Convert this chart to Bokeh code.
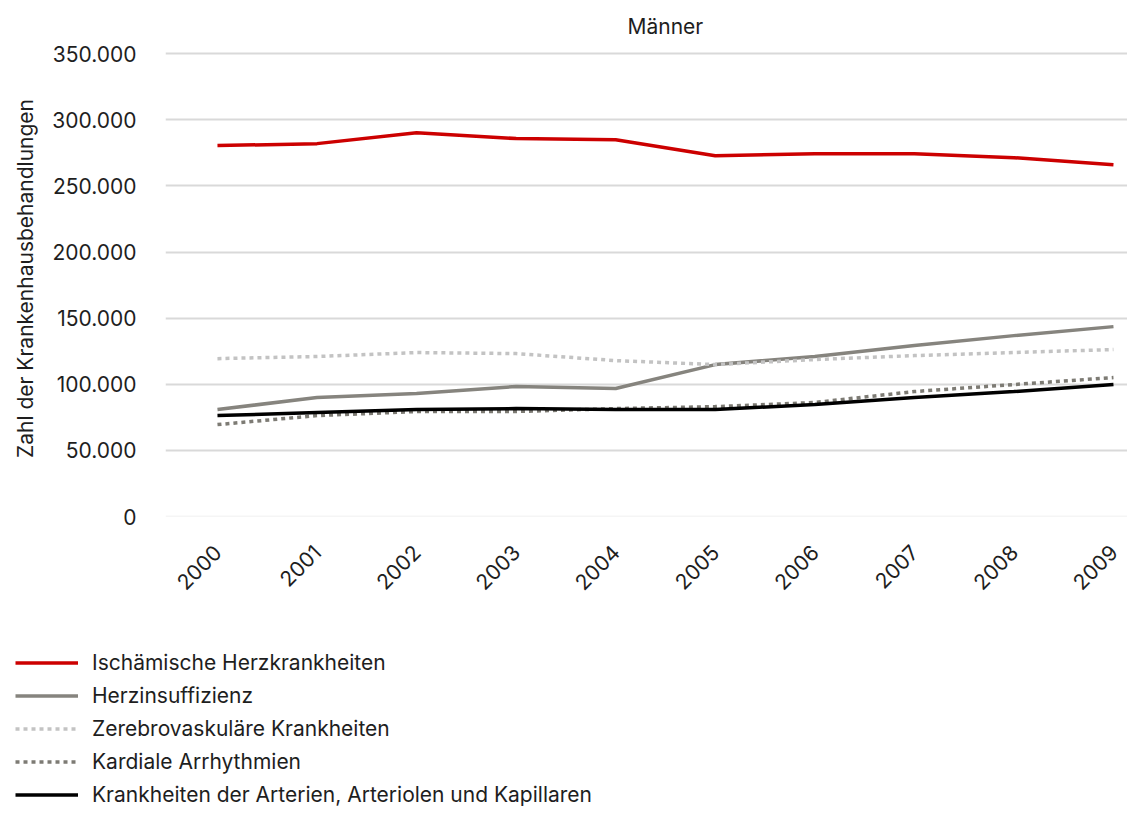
from bokeh.plotting import figure
from bokeh.models import Range1d, FixedTicker, Legend, LegendItem, Title, Span
from bokeh.embed import file_html
from bokeh.resources import INLINE

years = [2000, 2001, 2002, 2003, 2004, 2005, 2006, 2007, 2008, 2009]
year_labels = ["2000", "2001", "2002", "2003", "2004", "2005", "2006", "2007", "2008", "2009"]

ischaemische = [280500, 282000, 290300, 285800, 285000, 272900, 274400, 274400, 271400, 266100]
herzinsuffizienz = [80900, 90000, 93000, 98300, 96800, 114900, 121000, 129300, 136800, 143600]
zerebrovaskulaer = [119400, 121000, 124000, 123200, 117900, 114900, 118700, 121700, 124000, 126300]
arrhythmien = [69500, 76300, 79400, 79400, 81600, 83100, 86200, 94500, 99800, 105100]
arterien = [76300, 78600, 80900, 81600, 80900, 80900, 84700, 90000, 94500, 99800]

series_names = [
    "Ischämische Herzkrankheiten",
    "Herzinsuffizienz",
    "Zerebrovaskuläre Krankheiten",
    "Kardiale Arrhythmien",
    "Krankheiten der Arterien, Arteriolen und Kapillaren",
]

y_ticks = [0, 50000, 100000, 150000, 200000, 250000, 300000, 350000]
y_tick_labels = ["0", "50.000", "100.000", "150.000", "200.000", "250.000", "300.000", "350.000"]

FONT = "Inter"
TXT = "#1e1e1e"

styles = [
    dict(color="#cc0000", dash="solid"),
    dict(color="#86847e", dash="solid"),
    dict(color="#c3c3c3", dash="4 4"),
    dict(color="#7d7b74", dash="4 4"),
    dict(color="#000000", dash="solid"),
]
data = [ischaemische, herzinsuffizienz, zerebrovaskulaer, arrhythmien, arterien]

MAIN_H = 615
p = figure(width=1127, height=MAIN_H, output_backend="svg", toolbar_location=None,
           x_range=Range1d(1999.478, 2009.141), y_range=Range1d(0, 360000),
           min_border_left=165, min_border_right=0, min_border_top=40,
           min_border_bottom=MAIN_H - 516)
p.outline_line_color = None

p.title = Title(text="Männer", align="left", text_font=FONT, text_font_size="21px",
                text_font_style="normal", text_color=TXT, offset=462, standoff=4)

p.xaxis.ticker = FixedTicker(ticks=years)
p.xaxis.major_label_overrides = {y: l for y, l in zip(years, year_labels)}
p.xaxis.major_label_orientation = 0.785398
p.xaxis.axis_line_color = None
p.xaxis.major_tick_line_color = None
p.xaxis.minor_tick_line_color = None
p.xaxis.major_tick_out = 0
p.xaxis.major_label_standoff = 32
p.xaxis.major_label_text_font = FONT
p.xaxis.major_label_text_font_size = "21px"
p.xaxis.major_label_text_color = TXT

p.yaxis.ticker = FixedTicker(ticks=y_ticks)
p.yaxis.major_label_overrides = {t: l for t, l in zip(y_ticks, y_tick_labels)}
p.yaxis.axis_line_color = None
p.yaxis.major_tick_line_color = None
p.yaxis.minor_tick_line_color = None
p.yaxis.major_tick_out = 0
p.yaxis.major_label_standoff = 29
p.yaxis.major_label_text_font = FONT
p.yaxis.major_label_text_font_size = "21px"
p.yaxis.major_label_text_color = TXT
p.yaxis.axis_label = "Zahl der Krankenhausbehandlungen"
p.yaxis.axis_label_text_font = FONT
p.yaxis.axis_label_text_font_size = "21px"
p.yaxis.axis_label_text_font_style = "normal"
p.yaxis.axis_label_text_color = TXT
p.yaxis.axis_label_standoff = 11

p.xgrid.grid_line_color = None
p.ygrid.ticker = FixedTicker(ticks=y_ticks[1:])
p.ygrid.grid_line_color = "#d9d9d9"
p.ygrid.grid_line_width = 2
p.add_layout(Span(location=0, dimension="width", line_color="#ececec", line_width=1.5))

for vals, st in zip(data, styles):
    p.line(years, vals, line_color=st["color"], line_width=3.5, line_dash=st["dash"])

# legend panel (same series, drawn outside its visible range; only the legend shows)
LEG_H = 807 - MAIN_H
leg = figure(width=1127, height=LEG_H, output_backend="svg", toolbar_location=None,
             x_range=Range1d(1999.478, 2009.141), y_range=Range1d(-2, -1),
             min_border=0, x_axis_location=None, y_axis_location=None)
leg.outline_line_color = None
leg.xgrid.grid_line_color = None
leg.ygrid.grid_line_color = None

items = []
for name, vals, st in zip(series_names, data, styles):
    r = leg.line(years, vals, line_color=st["color"], line_width=3.5, line_dash=st["dash"])
    items.append(LegendItem(label=name, renderers=[r]))

legend = Legend(items=items, location=(15, 0), orientation="vertical",
                border_line_color=None, background_fill_alpha=0,
                padding=0, margin=0, spacing=8, glyph_width=63, glyph_height=25,
                label_height=25, label_standoff=14,
                label_text_font=FONT, label_text_font_size="21px", label_text_color=TXT)
leg.add_layout(legend, "center")

open("out.html", "w").write(file_html([p, leg], INLINE))
